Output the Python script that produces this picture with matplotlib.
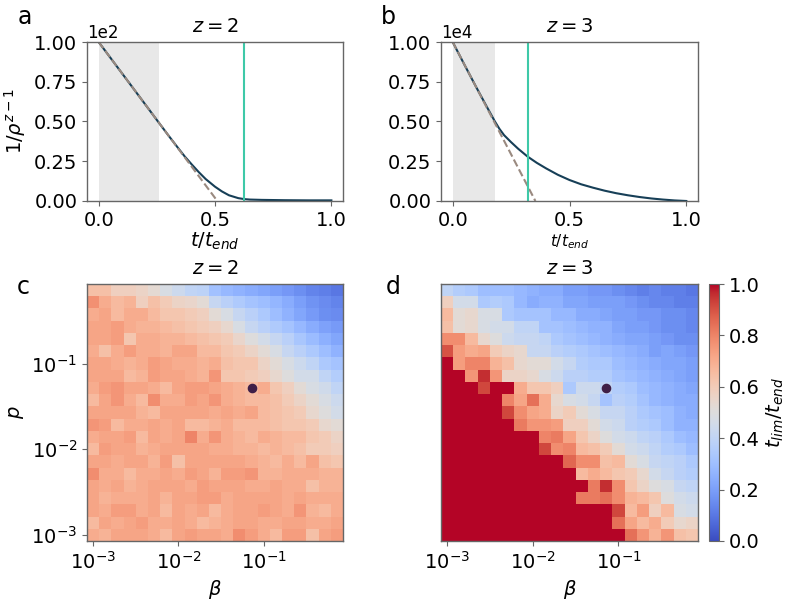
import numpy as np
import matplotlib
matplotlib.use('Agg')
import matplotlib.pyplot as plt
from matplotlib.ticker import NullLocator, FuncFormatter

# ---- top row: decay curves ----
t_a = [0, 0.05, 0.1, 0.15, 0.2, 0.26, 0.3, 0.34, 0.37, 0.4, 0.43, 0.46, 0.5,
       0.53, 0.56, 0.6, 0.625, 0.65, 0.7, 0.8, 0.9, 1.0]
y_a = [100, 90.2, 80.4, 70.6, 60.8, 49.0, 41.2, 33.6, 28.0, 23.0, 18.2, 13.8,
       9.0, 6.0, 3.6, 1.8, 1.2, 0.9, 0.7, 0.5, 0.4, 0.4]
t_b = [0, 0.05, 0.1, 0.15, 0.18, 0.2, 0.22, 0.25, 0.28, 0.32, 0.36, 0.4, 0.45,
       0.5, 0.55, 0.6, 0.65, 0.7, 0.75, 0.8, 0.85, 0.9, 0.95, 1.0]
y_b = [10000, 8580, 7180, 5820, 5020, 4540, 4140, 3700, 3290, 2800, 2400, 2050,
       1650, 1320, 1050, 840, 650, 490, 360, 250, 160, 90, 35, 0]
fit_a = ([0, 0.51], [100, 0])
fit_b = ([0, 0.354], [10000, 0])
shade_a, shade_b = 0.26, 0.179
tlim_a, tlim_b = 0.623, 0.321

# ---- bottom row: t_lim / t_end maps (rows from top = largest p) ----
beta = np.geomspace(1e-3, 0.72, 21)
p = np.geomspace(1e-3, 0.72, 21)
dot = (0.072, 0.0518)

c_rows = [
    [0.64, 0.64, 0.58, 0.58, 0.56, 0.53, 0.48, 0.44, 0.40, 0.39, 0.31, 0.28, 0.26, 0.24, 0.22, 0.20, 0.18, 0.16, 0.13, 0.12, 0.10],
    [0.77, 0.70, 0.66, 0.68, 0.58, 0.64, 0.60, 0.56, 0.55, 0.52, 0.42, 0.38, 0.35, 0.32, 0.30, 0.27, 0.24, 0.20, 0.17, 0.15, 0.13],
    [0.70, 0.72, 0.66, 0.70, 0.70, 0.66, 0.62, 0.62, 0.60, 0.58, 0.52, 0.48, 0.42, 0.38, 0.34, 0.30, 0.26, 0.22, 0.19, 0.16, 0.15],
    [0.72, 0.72, 0.74, 0.70, 0.68, 0.68, 0.66, 0.64, 0.62, 0.60, 0.58, 0.54, 0.48, 0.42, 0.38, 0.35, 0.32, 0.28, 0.24, 0.21, 0.19],
    [0.72, 0.72, 0.74, 0.62, 0.70, 0.70, 0.68, 0.68, 0.66, 0.64, 0.62, 0.60, 0.55, 0.50, 0.46, 0.42, 0.38, 0.33, 0.29, 0.25, 0.22],
    [0.70, 0.64, 0.70, 0.74, 0.70, 0.70, 0.68, 0.72, 0.72, 0.66, 0.66, 0.62, 0.60, 0.56, 0.52, 0.48, 0.42, 0.38, 0.34, 0.30, 0.26],
    [0.72, 0.72, 0.70, 0.68, 0.70, 0.74, 0.72, 0.70, 0.70, 0.68, 0.70, 0.64, 0.62, 0.62, 0.56, 0.52, 0.48, 0.44, 0.40, 0.34, 0.32],
    [0.72, 0.72, 0.72, 0.66, 0.68, 0.74, 0.72, 0.72, 0.70, 0.68, 0.76, 0.62, 0.62, 0.60, 0.58, 0.54, 0.50, 0.46, 0.46, 0.40, 0.36],
    [0.70, 0.74, 0.76, 0.72, 0.72, 0.70, 0.66, 0.72, 0.74, 0.74, 0.72, 0.70, 0.68, 0.66, 0.70, 0.62, 0.58, 0.52, 0.48, 0.45, 0.40],
    [0.66, 0.72, 0.76, 0.70, 0.66, 0.78, 0.70, 0.70, 0.74, 0.72, 0.76, 0.70, 0.68, 0.66, 0.66, 0.64, 0.60, 0.56, 0.52, 0.48, 0.44],
    [0.72, 0.72, 0.72, 0.72, 0.68, 0.66, 0.72, 0.72, 0.72, 0.72, 0.70, 0.72, 0.70, 0.72, 0.66, 0.64, 0.62, 0.60, 0.54, 0.50, 0.46],
    [0.76, 0.74, 0.66, 0.70, 0.70, 0.72, 0.70, 0.72, 0.66, 0.66, 0.68, 0.70, 0.66, 0.66, 0.66, 0.64, 0.62, 0.62, 0.60, 0.54, 0.52],
    [0.70, 0.72, 0.72, 0.74, 0.66, 0.72, 0.70, 0.72, 0.80, 0.70, 0.76, 0.70, 0.68, 0.66, 0.70, 0.68, 0.66, 0.66, 0.62, 0.60, 0.56],
    [0.66, 0.74, 0.72, 0.72, 0.68, 0.70, 0.72, 0.72, 0.72, 0.72, 0.70, 0.70, 0.68, 0.68, 0.66, 0.68, 0.66, 0.64, 0.60, 0.60, 0.58],
    [0.72, 0.72, 0.70, 0.72, 0.72, 0.68, 0.74, 0.64, 0.72, 0.72, 0.72, 0.72, 0.72, 0.70, 0.68, 0.66, 0.70, 0.66, 0.72, 0.64, 0.62],
    [0.78, 0.70, 0.70, 0.66, 0.70, 0.70, 0.72, 0.70, 0.74, 0.72, 0.68, 0.74, 0.74, 0.76, 0.68, 0.68, 0.70, 0.70, 0.70, 0.68, 0.68],
    [0.72, 0.70, 0.72, 0.68, 0.70, 0.72, 0.72, 0.72, 0.70, 0.74, 0.72, 0.72, 0.72, 0.70, 0.70, 0.72, 0.70, 0.70, 0.64, 0.68, 0.68],
    [0.72, 0.68, 0.70, 0.70, 0.70, 0.72, 0.68, 0.72, 0.72, 0.74, 0.74, 0.70, 0.72, 0.72, 0.72, 0.72, 0.70, 0.72, 0.70, 0.70, 0.70],
    [0.72, 0.70, 0.74, 0.74, 0.70, 0.72, 0.66, 0.72, 0.70, 0.72, 0.66, 0.70, 0.72, 0.72, 0.74, 0.72, 0.70, 0.76, 0.68, 0.66, 0.70],
    [0.66, 0.72, 0.70, 0.72, 0.74, 0.70, 0.70, 0.72, 0.70, 0.66, 0.68, 0.70, 0.72, 0.72, 0.70, 0.70, 0.72, 0.72, 0.70, 0.70, 0.72],
    [0.70, 0.68, 0.72, 0.72, 0.72, 0.70, 0.66, 0.72, 0.74, 0.72, 0.72, 0.70, 0.78, 0.74, 0.70, 0.66, 0.74, 0.74, 0.64, 0.72, 0.74],
]

d_rows = [
    [0.40, 0.36, 0.34, 0.30, 0.30, 0.30, 0.28, 0.26, 0.24, 0.24, 0.20, 0.20, 0.18, 0.18, 0.16, 0.14, 0.12, 0.14, 0.12, 0.12, 0.10],
    [0.58, 0.46, 0.46, 0.34, 0.36, 0.34, 0.28, 0.24, 0.26, 0.26, 0.22, 0.22, 0.20, 0.20, 0.20, 0.18, 0.16, 0.14, 0.14, 0.12, 0.12],
    [0.66, 0.52, 0.54, 0.48, 0.48, 0.34, 0.32, 0.32, 0.32, 0.28, 0.28, 0.24, 0.24, 0.22, 0.20, 0.20, 0.18, 0.18, 0.16, 0.16, 0.14],
    [0.64, 0.52, 0.54, 0.48, 0.46, 0.46, 0.40, 0.40, 0.32, 0.32, 0.30, 0.28, 0.26, 0.26, 0.22, 0.20, 0.20, 0.18, 0.16, 0.16, 0.14],
    [0.78, 0.78, 0.66, 0.54, 0.50, 0.44, 0.42, 0.42, 0.40, 0.34, 0.32, 0.30, 0.28, 0.26, 0.24, 0.22, 0.22, 0.20, 0.18, 0.16, 0.16],
    [0.90, 0.74, 0.70, 0.72, 0.60, 0.56, 0.54, 0.42, 0.42, 0.38, 0.36, 0.34, 0.32, 0.30, 0.28, 0.26, 0.24, 0.20, 0.22, 0.20, 0.18],
    [1.00, 0.74, 0.80, 0.80, 0.68, 0.64, 0.54, 0.52, 0.52, 0.46, 0.42, 0.36, 0.34, 0.34, 0.30, 0.28, 0.26, 0.24, 0.22, 0.22, 0.20],
    [1.00, 1.00, 0.76, 0.96, 0.76, 0.56, 0.56, 0.54, 0.48, 0.44, 0.38, 0.38, 0.36, 0.36, 0.32, 0.30, 0.28, 0.26, 0.24, 0.22, 0.20],
    [1.00, 1.00, 1.00, 0.92, 1.00, 1.00, 0.70, 0.62, 0.62, 0.58, 0.34, 0.44, 0.44, 0.40, 0.36, 0.34, 0.30, 0.28, 0.26, 0.24, 0.22],
    [1.00, 1.00, 1.00, 1.00, 1.00, 0.80, 0.72, 0.84, 0.70, 0.54, 0.48, 0.46, 0.42, 0.32, 0.38, 0.36, 0.32, 0.28, 0.26, 0.24, 0.24],
    [1.00, 1.00, 1.00, 1.00, 1.00, 0.92, 0.78, 0.72, 0.70, 0.56, 0.60, 0.52, 0.48, 0.42, 0.42, 0.38, 0.34, 0.32, 0.30, 0.26, 0.24],
    [1.00, 1.00, 1.00, 1.00, 1.00, 1.00, 0.82, 0.76, 0.76, 0.74, 0.58, 0.58, 0.52, 0.46, 0.44, 0.38, 0.36, 0.34, 0.30, 0.26, 0.26],
    [1.00, 1.00, 1.00, 1.00, 1.00, 1.00, 1.00, 1.00, 0.80, 0.82, 0.72, 0.62, 0.56, 0.50, 0.46, 0.44, 0.40, 0.38, 0.34, 0.30, 0.28],
    [1.00, 1.00, 1.00, 1.00, 1.00, 1.00, 1.00, 1.00, 0.92, 0.78, 0.80, 0.66, 0.64, 0.60, 0.52, 0.46, 0.44, 0.40, 0.36, 0.34, 0.30],
    [1.00, 1.00, 1.00, 1.00, 1.00, 1.00, 1.00, 1.00, 1.00, 1.00, 0.86, 0.78, 0.78, 0.64, 0.66, 0.52, 0.48, 0.42, 0.40, 0.38, 0.34],
    [1.00, 1.00, 1.00, 1.00, 1.00, 1.00, 1.00, 1.00, 1.00, 1.00, 1.00, 0.66, 0.70, 0.66, 0.62, 0.60, 0.54, 0.46, 0.42, 0.38, 0.36],
    [1.00, 1.00, 1.00, 1.00, 1.00, 1.00, 1.00, 1.00, 1.00, 1.00, 1.00, 1.00, 0.82, 0.96, 0.78, 0.62, 0.56, 0.50, 0.48, 0.42, 0.40],
    [1.00, 1.00, 1.00, 1.00, 1.00, 1.00, 1.00, 1.00, 1.00, 1.00, 1.00, 0.82, 0.82, 0.84, 0.78, 0.68, 0.66, 0.62, 0.50, 0.46, 0.44],
    [1.00, 1.00, 1.00, 1.00, 1.00, 1.00, 1.00, 1.00, 1.00, 1.00, 1.00, 1.00, 1.00, 1.00, 0.92, 0.66, 0.74, 0.58, 0.66, 0.48, 0.46],
    [1.00, 1.00, 1.00, 1.00, 1.00, 1.00, 1.00, 1.00, 1.00, 1.00, 1.00, 1.00, 1.00, 1.00, 0.84, 0.72, 0.66, 0.70, 0.60, 0.54, 0.56],
    [1.00, 1.00, 1.00, 1.00, 1.00, 1.00, 1.00, 1.00, 1.00, 1.00, 1.00, 1.00, 1.00, 1.00, 1.00, 0.84, 0.76, 0.68, 0.76, 0.64, 0.62],
]

line_col = '#173f57'
fit_col = '#9a8a80'
tlim_col = '#3ec9a8'
spine_col = '0.4'
fs = 14
plt.rcParams['font.size'] = fs

W, H = 789, 601
fig = plt.figure(figsize=(W / 100, H / 100), dpi=100)


def box(x0, y0, x1, y1):
    # pixel box (top-left origin) -> figure fraction
    return [x0 / W, 1 - y1 / H, (x1 - x0) / W, (y1 - y0) / H]


def style(ax):
    for s in ax.spines.values():
        s.set_color(spine_col)
        s.set_linewidth(1.0)
    ax.tick_params(color=spine_col, labelsize=fs)


def edges(c):
    lc = np.log10(c)
    h = (lc[1] - lc[0]) / 2
    return 10 ** np.concatenate([lc - h, [lc[-1] + h]])


# top panels
ax_a = fig.add_axes(box(87, 42, 343, 201))
ax_b = fig.add_axes(box(441, 42, 698, 201))
for ax, t, y, fit, sh, tl, top, z in [(ax_a, t_a, y_a, fit_a, shade_a, tlim_a, 100, 2),
                                      (ax_b, t_b, y_b, fit_b, shade_b, tlim_b, 10000, 3)]:
    ax.axvspan(0, sh, color='#e8e8e8', lw=0)
    ax.plot(t, y, color=line_col, lw=1.5)
    ax.plot(fit[0], fit[1], '--', color=fit_col, lw=1.5)
    ax.axvline(tl, color=tlim_col, lw=1.5)
    ax.set_xlim(-0.05, 1.05)
    ax.set_ylim(0, top)
    ax.set_xticks([0, 0.5, 1.0])
    ax.set_yticks(np.linspace(0, top, 5))
    ax.yaxis.set_major_formatter(FuncFormatter(lambda v, _, top=top: f'{v / top:.2f}'))
    ax.text(0.0, 1.0, '1e%d' % round(np.log10(top)), transform=ax.transAxes,
            fontsize=12, ha='left', va='bottom')
    ax.set_title(f'$z = {z}$', fontsize=fs, pad=7)
    style(ax)
ax_a.set_ylabel(r'$1/\rho^{z-1}$', fontsize=fs)
ax_a.set_xlabel(r'$t/t_{end}$', fontsize=fs, labelpad=1)
ax_b.set_xlabel(r'$t/t_{end}$', fontsize=11, labelpad=2)

# bottom panels
ax_c = fig.add_axes(box(87, 284, 343, 541))
ax_d = fig.add_axes(box(441, 284, 698, 541))
bx, py = edges(beta), edges(p)
for ax, rows, z in [(ax_c, c_rows, 2), (ax_d, d_rows, 3)]:
    vals = np.array(rows)[::-1]
    mesh = ax.pcolormesh(bx, py, vals, cmap='coolwarm', vmin=0, vmax=1, shading='flat')
    ax.scatter([dot[0]], [dot[1]], s=35, color='#3f1f48', zorder=3)
    ax.set_xscale('log')
    ax.set_yscale('log')
    ax.set_xlim(bx[0], bx[-1])
    ax.set_ylim(py[0], py[-1])
    ax.set_xticks([1e-3, 1e-2, 1e-1])
    ax.xaxis.set_minor_locator(NullLocator())
    ax.yaxis.set_minor_locator(NullLocator())
    ax.set_xlabel(r'$\beta$', fontsize=fs)
    ax.set_title(f'$z = {z}$', fontsize=fs, pad=7)
    style(ax)
ax_c.set_yticks([1e-3, 1e-2, 1e-1])
ax_c.yaxis.set_minor_locator(NullLocator())
ax_c.set_ylabel(r'$p$', fontsize=fs)
ax_d.set_yticks([])

cax = fig.add_axes(box(709, 284, 719, 541))
cb = fig.colorbar(mesh, cax=cax)
cb.set_ticks([0, 0.2, 0.4, 0.6, 0.8, 1.0])
cb.outline.set_edgecolor(spine_col)
cax.tick_params(labelsize=fs, color=spine_col)
cb.set_label(r'$t_{lim}/t_{end}$', fontsize=fs)

# panel letters
for x, y, s in [(25, 17, 'a'), (388, 17, 'b'), (23, 287, 'c'), (393, 287, 'd')]:
    fig.text(x / W, 1 - y / H, s, fontsize=17, ha='center', va='center')

fig.savefig('out.png', dpi=100)
